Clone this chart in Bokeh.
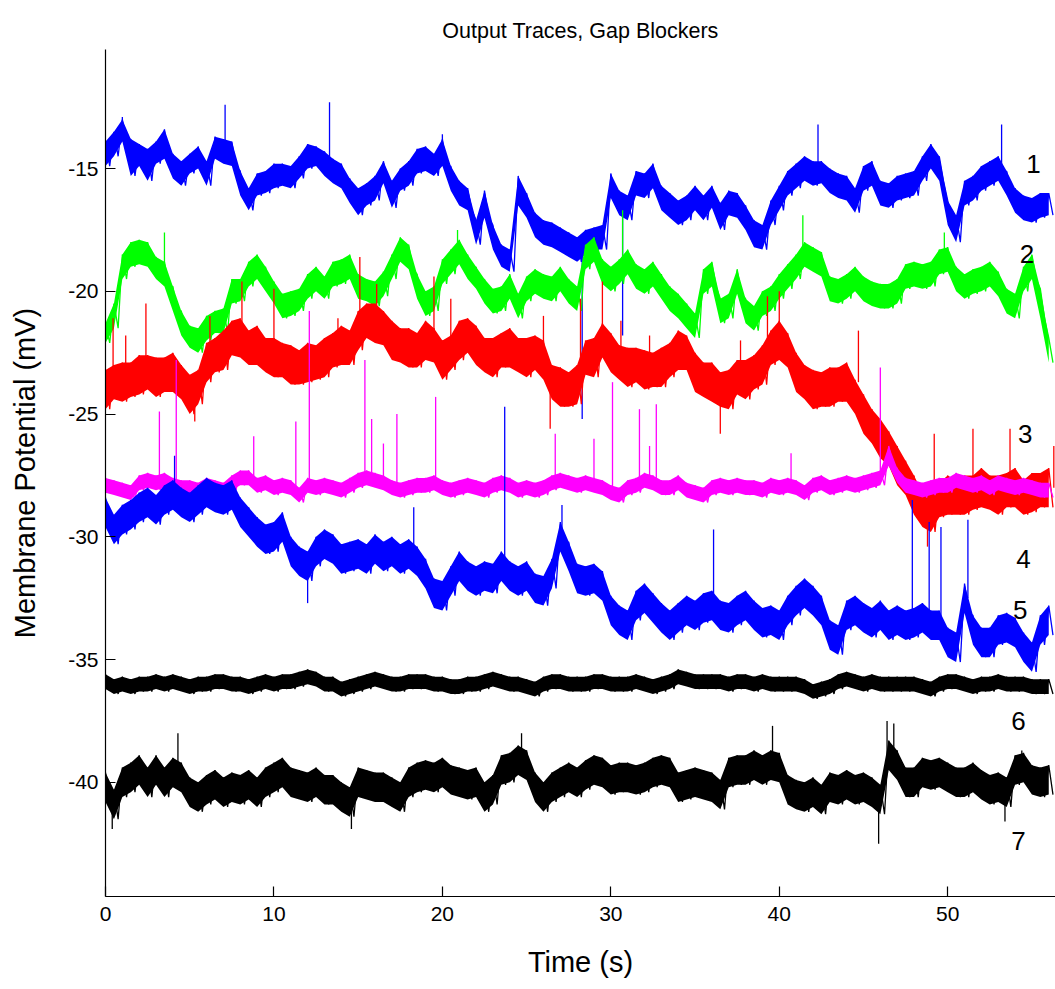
import numpy as np
from bokeh.plotting import figure
from bokeh.models import Range1d, FixedTicker
from bokeh.core.properties import value
from bokeh.embed import file_html
from bokeh.resources import INLINE

# Sampling step of the band edges (s); upper edge sampled at t, lower edge half a step later
STEP = 0.5

# ---- trace 1 (blue, top) ----
hi_1 = [-13.9,-13.5,-13.0,-13.8,-14.0,-14.2,-13.9,-13.4,-14.4,-14.7,-14.4,-14.1,-14.7,-13.7,-13.8,-13.9,-15.1,-15.8,-15.2,-15.1,-14.8,-14.8,-14.9,-14.5,-14.0,-14.1,-14.3,-14.6,-14.8,-15.4,-15.8,-15.6,-15.3,-14.7,-15.5,-15.0,-14.7,-14.2,
        -14.1,-14.4,-13.8,-14.9,-15.5,-15.8,-17.1,-15.9,-17.3,-18.1,-18.3,-15.3,-16.0,-16.8,-17.1,-17.2,-17.4,-17.6,-17.8,-17.5,-17.4,-17.3,-15.2,-15.9,-16.1,-15.1,-15.2,-14.8,-15.7,-16.0,-16.3,-16.1,-15.7,-16.1,-15.7,-16.4,-15.9,-16.0,
        -16.5,-17.1,-17.3,-16.3,-15.7,-15.1,-14.8,-14.5,-14.7,-14.7,-15.0,-15.2,-15.3,-15.8,-14.9,-14.7,-15.5,-15.6,-15.3,-15.2,-15.1,-14.5,-14.0,-14.5,-16.3,-16.9,-15.5,-15.3,-14.9,-14.7,-14.5,-15.1,-15.8,-16.1,-16.2,-16.0,-16.0]
lo_1 = [-14.9,-14.5,-13.9,-15.3,-14.9,-15.5,-14.8,-14.6,-15.4,-15.7,-15.2,-15.0,-15.7,-14.6,-14.8,-14.9,-16.1,-16.7,-16.1,-16.0,-15.8,-15.7,-15.8,-15.4,-15.0,-14.9,-15.3,-15.6,-15.8,-16.4,-16.9,-16.5,-16.3,-15.6,-16.6,-15.9,-15.7,-15.2,
        -15.1,-15.3,-14.9,-15.9,-16.5,-16.7,-18.1,-17.0,-18.3,-19.0,-19.2,-16.5,-17.0,-17.8,-18.1,-18.2,-18.4,-18.6,-18.8,-18.5,-18.3,-18.3,-16.2,-16.9,-17.1,-16.1,-16.2,-15.8,-16.7,-17.0,-17.3,-17.1,-16.7,-17.1,-16.6,-17.5,-16.9,-17.0,
        -17.5,-18.2,-18.3,-17.3,-16.7,-16.1,-15.8,-15.5,-15.7,-15.6,-16.0,-16.2,-16.3,-16.8,-15.9,-15.7,-16.5,-16.6,-16.3,-16.2,-16.1,-15.5,-15.0,-15.5,-17.3,-18.0,-16.5,-16.3,-15.9,-15.7,-15.5,-16.1,-16.8,-17.1,-17.2,-17.0,-16.9]
spike_t_1 = [1.0, 7.1, 13.3, 20.0, 28.3, 30.7, 42.3, 53.2]
spike_from_1 = [-13.5, -14.3, -14.8, -14.4, -18.3, -16.4, -15.2, -15.1]
spike_to_1 = [-12.9, -12.4, -12.3, -13.6, -25.2, -21.8, -13.2, -13.2]

# ---- trace 2 (green) ----
hi_2 = [-21.3,-20.5,-18.5,-18.0,-17.9,-18.0,-18.6,-18.8,-19.8,-20.8,-21.4,-21.5,-21.0,-20.8,-20.7,-19.5,-19.5,-18.8,-18.5,-19.0,-19.6,-20.1,-20.0,-19.9,-19.3,-19.0,-19.4,-18.8,-18.7,-18.5,-19.3,-19.5,-19.6,-19.2,-18.5,-17.8,-18.1,-19.3,
        -20.0,-19.8,-18.7,-18.3,-17.9,-18.5,-19.0,-19.5,-19.9,-19.8,-19.3,-20.1,-19.4,-19.1,-19.3,-19.4,-19.0,-19.5,-19.8,-18.1,-17.8,-18.7,-19.0,-18.7,-18.3,-18.9,-19.1,-18.8,-19.3,-19.8,-20.1,-20.5,-20.9,-19.1,-18.8,-20.3,-20.1,-19.1,
        -20.3,-20.6,-20.0,-19.8,-19.3,-18.9,-18.5,-18.0,-18.2,-18.4,-19.4,-19.5,-19.3,-19.0,-19.4,-19.6,-19.7,-19.7,-19.5,-18.9,-18.8,-18.9,-18.8,-18.3,-18.2,-19.0,-19.3,-19.1,-19.0,-18.8,-19.2,-19.9,-20.1,-19.0,-18.5,-19.9,-21.9]
lo_2 = [-22.1,-21.5,-19.5,-19.0,-18.9,-19.0,-19.5,-19.8,-20.8,-21.8,-22.3,-22.5,-22.0,-21.7,-21.7,-20.5,-20.4,-19.8,-19.5,-20.0,-20.5,-21.1,-21.0,-20.8,-20.3,-20.0,-20.3,-19.8,-19.7,-19.5,-20.3,-20.4,-20.6,-20.2,-19.5,-18.8,-19.1,-20.3,
        -21.0,-20.8,-19.7,-19.3,-18.9,-19.5,-19.9,-20.5,-20.9,-20.8,-20.3,-21.1,-20.4,-20.1,-20.3,-20.4,-20.0,-20.5,-20.8,-19.1,-18.8,-19.7,-20.0,-19.7,-19.3,-19.9,-20.1,-19.8,-20.3,-20.8,-21.1,-21.5,-21.9,-20.1,-19.8,-21.3,-21.1,-20.1,
        -21.3,-21.6,-21.0,-20.8,-20.3,-19.9,-19.5,-19.0,-19.2,-19.4,-20.4,-20.5,-20.3,-20.0,-20.4,-20.6,-20.7,-20.7,-20.5,-19.9,-19.8,-19.9,-19.8,-19.3,-19.2,-20.0,-20.3,-20.1,-20.0,-19.8,-20.2,-20.9,-21.1,-20.0,-19.5,-21.1,-22.9]
spike_t_2 = [3.5, 20.9, 30.7, 41.4, 49.8]
spike_from_2 = [-19.3, -18.8, -19.2, -18.5, -18.8]
spike_to_2 = [-17.6, -17.5, -16.7, -16.9, -17.6]

# ---- trace 3 (red) ----
hi_3 = [-23.2,-23.0,-22.9,-22.9,-22.6,-22.6,-22.7,-22.7,-22.5,-23.0,-23.4,-23.2,-22.1,-21.9,-21.6,-21.2,-21.1,-21.6,-21.4,-21.9,-21.9,-22.1,-22.2,-22.4,-22.1,-22.2,-21.9,-21.7,-21.4,-21.6,-20.8,-20.5,-20.5,-20.8,-21.2,-21.5,-21.5,-21.7,
        -21.2,-21.5,-22.0,-21.8,-21.2,-21.1,-21.4,-21.9,-21.9,-21.7,-21.5,-21.9,-21.9,-21.8,-22.0,-23.0,-23.1,-23.3,-23.0,-22.0,-21.9,-21.3,-21.7,-22.2,-22.3,-22.3,-22.4,-22.5,-22.3,-22.1,-21.6,-21.8,-22.5,-22.9,-22.9,-23.3,-23.2,-22.8,
        -22.8,-22.6,-22.2,-21.6,-21.2,-21.7,-22.5,-23.0,-23.2,-23.3,-23.1,-23.1,-22.9,-23.6,-24.2,-24.8,-25.2,-25.7,-26.3,-26.9,-27.5,-28.2,-28.2,-27.8,-27.5,-27.7,-27.5,-27.5,-27.2,-27.5,-27.5,-27.4,-27.2,-27.7,-27.4,-27.4,-27.2]
lo_3 = [-24.8,-24.4,-24.5,-24.3,-24.2,-24.0,-24.3,-24.1,-24.1,-24.4,-25.0,-24.6,-23.7,-23.3,-23.2,-22.6,-22.7,-23.0,-23.0,-23.3,-23.5,-23.5,-23.8,-23.8,-23.7,-23.6,-23.5,-23.1,-23.0,-23.0,-22.4,-21.9,-22.1,-22.2,-22.8,-22.9,-23.1,-23.1,
        -22.8,-22.9,-23.6,-23.2,-22.8,-22.5,-23.0,-23.3,-23.5,-23.1,-23.1,-23.3,-23.5,-23.2,-23.6,-24.4,-24.7,-24.7,-24.6,-23.4,-23.5,-22.7,-23.3,-23.6,-23.9,-23.7,-24.0,-23.9,-23.9,-23.5,-23.2,-23.2,-24.1,-24.3,-24.5,-24.7,-24.8,-24.2,
        -24.4,-24.0,-23.8,-23.0,-22.8,-23.1,-24.1,-24.4,-24.8,-24.7,-24.7,-24.5,-24.5,-25.0,-25.8,-26.2,-26.8,-27.1,-27.9,-28.3,-29.1,-29.6,-29.8,-29.2,-29.1,-29.1,-29.1,-28.9,-28.8,-28.9,-29.1,-28.8,-28.8,-29.1,-29.0,-28.8,-28.8]
spike_t_3 = [0.45, 1.2, 2.4, 6.2, 8.1, 10.0, 13.8, 15.1, 16.1, 19.5, 20.5, 26.0, 28.2, 29.5, 30.6, 32.3, 37.7, 39.3, 40.0, 44.7, 49.2, 51.5, 53.7, 56.3,
             5.3, 26.4, 36.5, 48.8]
spike_from_3 = [-23.7, -23.7, -23.3, -22.9, -21.9, -22.7, -22.2, -21.6, -21.3, -22.2, -22.5, -22.8, -23.8, -22.0, -22.9, -23.2, -23.6, -22.3, -22.0, -23.7, -29.0, -28.3, -28.1, -28.0,
                -24.0, -23.7, -24.0, -28.9]
spike_to_3 = [-21.1, -21.8, -20.5, -21.0, -19.6, -19.9, -21.1, -18.6, -19.7, -19.4, -20.3, -21.0, -20.3, -19.6, -21.2, -21.8, -22.0, -20.2, -20.0, -21.6, -25.8, -25.6, -25.6, -26.3,
              -25.3, -25.6, -25.8, -30.4]

# ---- trace 4 (magenta) ----
hi_4 = [-27.6,-27.7,-27.8,-27.9,-27.5,-27.4,-27.5,-27.4,-27.6,-27.7,-27.7,-27.8,-27.6,-27.7,-27.8,-27.5,-27.3,-27.3,-27.6,-27.5,-27.7,-27.6,-27.7,-28.0,-27.6,-27.7,-27.6,-27.7,-27.8,-27.6,-27.4,-27.3,-27.4,-27.5,-27.7,-27.8,-27.7,-27.6,
        -27.6,-27.5,-27.7,-27.8,-27.7,-27.6,-27.7,-27.8,-27.6,-27.5,-27.6,-27.8,-27.7,-27.8,-27.7,-27.5,-27.4,-27.5,-27.6,-27.5,-27.6,-27.7,-27.9,-28.0,-27.7,-27.6,-27.4,-27.5,-27.7,-27.7,-27.5,-27.8,-27.9,-28.0,-27.7,-27.6,-27.7,-27.6,
        -27.7,-27.7,-27.8,-27.6,-27.7,-27.6,-27.7,-27.9,-27.6,-27.5,-27.7,-27.6,-27.5,-27.6,-27.5,-27.4,-27.3,-26.3,-27.2,-27.6,-27.7,-27.8,-27.7,-27.6,-27.6,-27.4,-27.5,-27.6,-27.5,-27.7,-27.5,-27.6,-27.7,-27.6,-27.7,-27.8,-27.8]
lo_4 = [-28.2,-28.3,-28.4,-28.5,-28.1,-28.0,-28.1,-28.0,-28.2,-28.3,-28.3,-28.4,-28.2,-28.3,-28.4,-28.1,-27.9,-27.9,-28.2,-28.1,-28.3,-28.2,-28.3,-28.6,-28.2,-28.3,-28.2,-28.3,-28.4,-28.2,-28.0,-27.9,-28.0,-28.1,-28.3,-28.4,-28.3,-28.2,
        -28.2,-28.1,-28.3,-28.4,-28.3,-28.2,-28.3,-28.4,-28.2,-28.1,-28.2,-28.4,-28.3,-28.4,-28.3,-28.1,-28.0,-28.1,-28.2,-28.1,-28.2,-28.3,-28.5,-28.6,-28.3,-28.2,-28.0,-28.1,-28.3,-28.3,-28.1,-28.4,-28.5,-28.6,-28.3,-28.2,-28.3,-28.2,
        -28.3,-28.3,-28.4,-28.2,-28.3,-28.2,-28.3,-28.5,-28.2,-28.1,-28.3,-28.2,-28.1,-28.2,-28.1,-28.0,-27.9,-27.1,-27.8,-28.2,-28.3,-28.4,-28.3,-28.2,-28.2,-28.0,-28.1,-28.2,-28.1,-28.3,-28.1,-28.2,-28.3,-28.2,-28.3,-28.4,-28.4]
spike_t_4 = [3.2, 4.2, 8.8, 11.3, 12.1, 15.4, 15.8, 16.5, 17.3, 19.6, 26.7, 29.0, 30.1, 31.7, 32.3, 32.7, 40.7, 46.0]
spike_from_4 = [-27.8, -27.9, -27.7, -28.0, -28.0, -27.7, -27.7, -27.8, -28.0, -27.9, -27.8, -27.9, -28.2, -27.9, -27.8, -27.8, -27.9, -27.6]
spike_to_4 = [-24.9, -22.8, -25.9, -25.3, -20.8, -22.8, -25.2, -26.2, -25.0, -24.3, -25.8, -26.0, -23.7, -24.8, -26.3, -24.6, -26.6, -23.1]

# ---- trace 5 (blue, lower) ----
hi_5 = [-28.4,-29.1,-28.7,-28.5,-28.2,-28.0,-28.3,-27.9,-27.7,-28.0,-28.2,-27.9,-27.6,-27.8,-27.9,-27.7,-28.4,-28.8,-29.2,-29.5,-29.4,-29.0,-30.0,-30.4,-30.6,-30.0,-29.7,-29.9,-30.3,-30.2,-30.1,-30.3,-29.9,-30.2,-30.0,-30.3,-30.1,-30.4,
        -30.9,-31.7,-31.8,-31.2,-30.6,-31.0,-31.2,-31.0,-31.1,-30.6,-31.0,-31.2,-31.0,-31.5,-31.6,-30.9,-29.4,-30.2,-31.1,-31.2,-31.1,-31.4,-32.4,-32.8,-33.0,-32.2,-31.9,-32.3,-32.7,-33.0,-32.7,-32.4,-32.6,-32.3,-32.2,-32.6,-32.7,-32.4,
        -32.2,-32.6,-32.9,-32.8,-33.0,-32.4,-32.0,-31.7,-32.0,-32.4,-33.4,-33.6,-32.6,-32.4,-32.7,-32.9,-32.6,-33.0,-32.8,-33.0,-32.9,-32.7,-33.0,-33.0,-33.7,-33.9,-31.9,-33.2,-33.7,-33.7,-33.2,-33.1,-33.3,-33.9,-34.3,-33.2,-32.8]
lo_5 = [-29.6,-30.3,-29.9,-29.7,-29.4,-29.2,-29.5,-29.1,-28.9,-29.2,-29.4,-29.1,-28.8,-29.0,-29.1,-28.9,-29.6,-30.0,-30.4,-30.7,-30.6,-30.2,-31.2,-31.6,-31.8,-31.2,-30.9,-31.1,-31.5,-31.4,-31.3,-31.5,-31.1,-31.4,-31.2,-31.5,-31.3,-31.6,
        -32.1,-32.9,-33.0,-32.4,-31.8,-32.2,-32.4,-32.2,-32.3,-31.8,-32.2,-32.4,-32.2,-32.7,-32.8,-32.1,-30.6,-31.4,-32.3,-32.4,-32.3,-32.6,-33.6,-34.0,-34.2,-33.4,-33.1,-33.5,-33.9,-34.2,-33.9,-33.6,-33.8,-33.5,-33.4,-33.8,-33.9,-33.6,
        -33.4,-33.8,-34.1,-34.0,-34.2,-33.6,-33.2,-32.9,-33.2,-33.6,-34.6,-34.8,-33.8,-33.6,-33.9,-34.1,-33.8,-34.2,-34.0,-34.2,-34.1,-33.9,-34.2,-34.2,-34.9,-35.1,-33.1,-34.4,-34.9,-34.9,-34.4,-34.3,-34.5,-35.1,-35.5,-34.4,-34.0]
spike_t_5 = [4.1, 12.0, 18.3, 23.7, 27.1, 36.1, 47.9, 48.9, 49.6, 51.2]
spike_from_5 = [-28.3, -31.2, -30.7, -31.2, -30.0, -32.8, -33.6, -33.4, -33.6, -32.5]
spike_to_5 = [-26.7, -32.7, -28.8, -24.7, -28.7, -29.7, -28.5, -29.4, -29.6, -29.3]

# ---- trace 6 (black, -36 mV) ----
hi_6 = [-35.6,-35.8,-35.7,-35.8,-35.7,-35.7,-35.6,-35.7,-35.6,-35.7,-35.8,-35.7,-35.7,-35.6,-35.6,-35.7,-35.7,-35.8,-35.7,-35.6,-35.7,-35.6,-35.6,-35.5,-35.4,-35.5,-35.7,-35.7,-35.9,-35.8,-35.7,-35.6,-35.5,-35.6,-35.7,-35.7,-35.6,-35.6,
        -35.6,-35.7,-35.7,-35.8,-35.8,-35.7,-35.7,-35.6,-35.5,-35.6,-35.7,-35.7,-35.8,-35.9,-35.7,-35.6,-35.6,-35.7,-35.7,-35.7,-35.6,-35.6,-35.7,-35.7,-35.7,-35.6,-35.7,-35.8,-35.7,-35.6,-35.4,-35.5,-35.6,-35.6,-35.6,-35.6,-35.7,-35.6,
        -35.6,-35.7,-35.6,-35.7,-35.7,-35.7,-35.7,-35.8,-36.0,-35.9,-35.8,-35.6,-35.5,-35.6,-35.7,-35.6,-35.7,-35.7,-35.7,-35.7,-35.7,-35.8,-35.9,-35.7,-35.6,-35.6,-35.7,-35.8,-35.7,-35.7,-35.6,-35.7,-35.7,-35.7,-35.8,-35.8,-35.8]
lo_6 = [-36.2,-36.4,-36.3,-36.4,-36.3,-36.3,-36.2,-36.3,-36.2,-36.3,-36.4,-36.3,-36.3,-36.2,-36.2,-36.3,-36.3,-36.4,-36.3,-36.2,-36.3,-36.2,-36.2,-36.1,-36.0,-36.1,-36.3,-36.3,-36.5,-36.4,-36.3,-36.2,-36.1,-36.2,-36.3,-36.3,-36.2,-36.2,
        -36.2,-36.3,-36.3,-36.4,-36.4,-36.3,-36.3,-36.2,-36.1,-36.2,-36.3,-36.3,-36.4,-36.5,-36.3,-36.2,-36.2,-36.3,-36.3,-36.3,-36.2,-36.2,-36.3,-36.3,-36.3,-36.2,-36.3,-36.4,-36.3,-36.2,-36.0,-36.1,-36.2,-36.2,-36.2,-36.2,-36.3,-36.2,
        -36.2,-36.3,-36.2,-36.3,-36.3,-36.3,-36.3,-36.4,-36.6,-36.5,-36.4,-36.2,-36.1,-36.2,-36.3,-36.2,-36.3,-36.3,-36.3,-36.3,-36.3,-36.4,-36.5,-36.3,-36.2,-36.2,-36.3,-36.4,-36.3,-36.3,-36.2,-36.3,-36.3,-36.3,-36.4,-36.4,-36.4]
spike_t_6 = []
spike_from_6 = []
spike_to_6 = []

# ---- trace 7 (black, -40 mV) ----
hi_7 = [-39.6,-40.3,-39.4,-39.2,-38.9,-39.4,-38.9,-39.4,-39.0,-39.2,-39.8,-40.0,-39.7,-39.5,-39.8,-39.6,-39.7,-39.5,-39.8,-39.4,-39.2,-39.0,-39.4,-39.5,-39.6,-39.4,-39.7,-39.7,-40.0,-40.2,-39.4,-39.5,-39.6,-39.6,-39.8,-40.0,-39.4,-39.2,
        -39.1,-39.2,-39.0,-39.3,-39.4,-39.5,-39.4,-40.0,-39.7,-38.9,-38.8,-38.5,-38.7,-39.6,-40.0,-39.6,-39.4,-39.2,-39.4,-39.1,-38.9,-39.0,-39.3,-39.2,-39.2,-39.3,-39.2,-39.0,-38.9,-39.0,-39.6,-39.5,-39.4,-39.5,-39.6,-39.9,-39.0,-38.9,
        -38.9,-38.7,-38.9,-38.7,-38.8,-39.7,-39.9,-40.0,-39.8,-40.1,-39.6,-39.7,-39.5,-39.7,-39.6,-39.8,-40.1,-38.3,-38.7,-39.4,-39.4,-39.0,-39.1,-39.0,-39.2,-39.4,-39.4,-39.2,-39.5,-39.7,-39.6,-39.8,-38.9,-38.8,-39.3,-39.4,-39.3]
lo_7 = [-40.8,-41.5,-40.6,-40.4,-40.1,-40.6,-40.1,-40.6,-40.2,-40.4,-41.0,-41.2,-40.9,-40.7,-41.0,-40.8,-40.9,-40.7,-41.0,-40.6,-40.4,-40.2,-40.6,-40.7,-40.8,-40.6,-40.9,-40.9,-41.2,-41.4,-40.6,-40.7,-40.8,-40.8,-41.0,-41.2,-40.6,-40.4,
        -40.3,-40.4,-40.2,-40.5,-40.6,-40.7,-40.6,-41.2,-40.9,-40.1,-40.0,-39.7,-39.9,-40.8,-41.2,-40.8,-40.6,-40.4,-40.6,-40.3,-40.1,-40.2,-40.5,-40.4,-40.4,-40.5,-40.4,-40.2,-40.1,-40.2,-40.8,-40.7,-40.6,-40.7,-40.8,-41.1,-40.2,-40.1,
        -40.1,-39.9,-40.1,-39.9,-40.0,-40.9,-41.1,-41.2,-41.0,-41.3,-40.8,-40.9,-40.7,-40.9,-40.8,-41.0,-41.3,-39.5,-39.9,-40.6,-40.6,-40.2,-40.3,-40.2,-40.4,-40.6,-40.6,-40.4,-40.7,-40.9,-40.8,-41.0,-40.1,-40.0,-40.5,-40.6,-40.5]
spike_t_7 = [0.4, 4.3, 14.6, 24.7, 39.6, 45.9, 46.4, 46.8, 53.4, 54.4]
spike_from_7 = [-40.6, -39.6, -40.8, -39.1, -39.3, -40.6, -38.9, -39.0, -40.4, -39.4]
spike_to_7 = [-41.9, -38.0, -41.9, -38.0, -37.7, -42.5, -37.5, -37.6, -41.6, -38.7]

# trace numbers written at the right-hand end
trace_names = ["1", "2", "3", "4", "5", "6", "7"]
name_t = [55.1, 54.7, 54.6, 54.5, 54.3, 54.2, 54.2]
name_v = [-14.8, -18.5, -25.8, -30.9, -33.0, -37.5, -42.4]

x_ticks = [0, 10, 20, 30, 40, 50]
y_ticks = [-40, -35, -30, -25, -20, -15]

colors = ["#0000ff", "#00ff00", "#ff0000", "#ff00ff", "#0000ff", "#000000", "#000000"]
traces = [
    (hi_1, lo_1, spike_t_1, spike_from_1, spike_to_1),
    (hi_2, lo_2, spike_t_2, spike_from_2, spike_to_2),
    (hi_3, lo_3, spike_t_3, spike_from_3, spike_to_3),
    (hi_4, lo_4, spike_t_4, spike_from_4, spike_to_4),
    (hi_5, lo_5, spike_t_5, spike_from_5, spike_to_5),
    (hi_6, lo_6, spike_t_6, spike_from_6, spike_to_6),
    (hi_7, lo_7, spike_t_7, spike_from_7, spike_to_7),
]

FONT = "Liberation Sans"

p = figure(width=1055, height=989, output_backend="svg", toolbar_location=None,
           x_range=Range1d(0, 56.4), y_range=Range1d(-44.65, -10.15),
           min_border_left=105, min_border_right=0, min_border_top=49, min_border_bottom=93,
           title="Output Traces, Gap Blockers")

p.title.align = "center"
p.title.vertical_align = "top"
p.title.text_font = FONT
p.title.text_font_size = "21.5px"
p.title.text_font_style = "normal"
p.title.text_color = "black"
p.title.standoff = 10

p.background_fill_color = "white"
p.border_fill_color = "white"
p.outline_line_color = None
p.xgrid.visible = False
p.ygrid.visible = False

for ax in (p.xaxis[0], p.yaxis[0]):
    ax.axis_line_color = "black"
    ax.axis_line_width = 1.2
    ax.major_tick_line_color = "black"
    ax.major_tick_line_width = 1.2
    ax.major_tick_in = 10
    ax.major_tick_out = 0
    ax.minor_tick_line_color = None
    ax.major_label_text_font = FONT
    ax.major_label_text_font_size = "21px"
    ax.major_label_text_color = "black"
    ax.axis_label_text_font = FONT
    ax.axis_label_text_font_size = "29px"
    ax.axis_label_text_font_style = "normal"
    ax.axis_label_text_color = "black"

p.xaxis.ticker = FixedTicker(ticks=x_ticks)
p.yaxis.ticker = FixedTicker(ticks=y_ticks)
p.xaxis.major_label_overrides = {v: str(v) for v in x_ticks}
p.yaxis.major_label_overrides = {v: str(v) for v in y_ticks}
p.xaxis.axis_label = "Time (s)"
p.yaxis.axis_label = "Membrane Potential (mV)"
p.xaxis.major_label_standoff = 10
p.xaxis.axis_label_standoff = 22
p.yaxis.major_label_standoff = 7
p.yaxis.axis_label_standoff = 24

for (hi, lo, st, sf, sto), col in zip(traces, colors):
    hi = np.asarray(hi)
    lo = np.asarray(lo)
    t = np.arange(len(hi)) * STEP
    # band between the read upper and lower edges
    p.varea(x=t, y1=lo, y2=hi, fill_color=col, fill_alpha=1.0)
    # jagged trace through the alternating edge readings
    xs = np.empty(2 * len(t))
    ys = np.empty(2 * len(t))
    xs[0::2] = t
    xs[1::2] = t + STEP / 2
    ys[0::2] = hi
    ys[1::2] = lo
    p.line(xs, ys, line_color=col, line_width=1.3)
    if st:
        p.segment(x0=st, y0=sf, x1=st, y1=sto, line_color=col, line_width=1.3)

p.text(x=name_t, y=name_v, text=trace_names, text_font=value(FONT), text_font_size="26px",
       text_align="center", text_baseline="middle", text_color="black")

open("out.html", "w").write(file_html(p, INLINE))
